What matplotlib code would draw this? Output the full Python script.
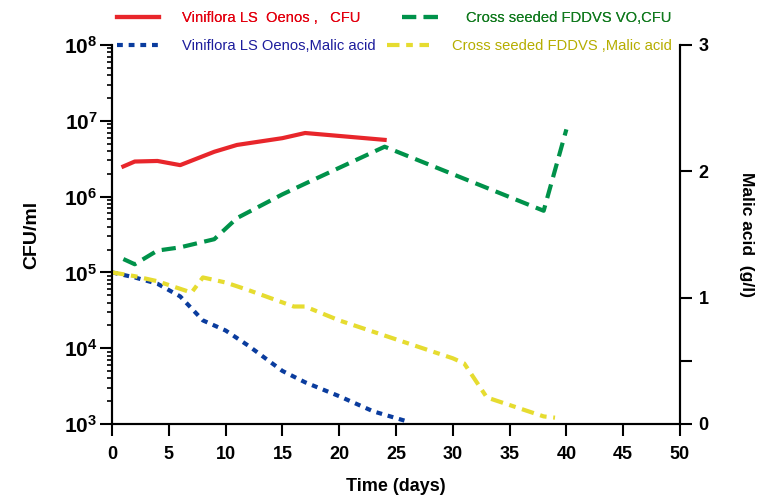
import matplotlib
matplotlib.use('Agg')
import matplotlib.pyplot as plt
from matplotlib.ticker import FixedLocator, LogLocator, NullFormatter

plt.rcParams['font.family'] = ['Liberation Sans', 'DejaVu Sans']
plt.rcParams['mathtext.fontset'] = 'custom'
plt.rcParams['mathtext.rm'] = 'Liberation Sans:bold'
plt.rcParams['mathtext.bf'] = 'Liberation Sans:bold'

# CFU counts (left axis, log)
red_days = [1, 2, 4, 6, 9, 11, 15, 17, 24]
red_cfu = [2.5e6, 2.9e6, 2.95e6, 2.6e6, 3.9e6, 4.8e6, 5.9e6, 6.9e6, 5.6e6]

green_days = [1, 2, 4, 6, 9, 11, 15, 17, 24, 38, 40]
green_cfu = [1.5e5, 1.28e5, 1.94e5, 2.14e5, 2.74e5, 5.2e5, 1.07e6, 1.48e6, 4.55e6, 6.5e5, 7.7e6]

# malic acid (right axis, g/l)
blue_days = [0, 2, 4, 6, 8, 10, 12, 15, 17, 20, 23, 26]
blue_malic = [1.2, 1.16, 1.11, 1.01, 0.82, 0.74, 0.62, 0.42, 0.33, 0.22, 0.10, 0.02]

yellow_days = [0, 2, 4, 6, 7, 8, 10, 12, 16, 17, 20, 25, 30, 31, 33, 35, 38, 39]
yellow_malic = [1.2, 1.17, 1.13, 1.07, 1.04, 1.16, 1.12, 1.06, 0.93, 0.93, 0.82, 0.67, 0.52, 0.48, 0.21, 0.15, 0.06, 0.05]

x_ticks = list(range(0, 51, 5))
log_exps = [3, 4, 5, 6, 7, 8]
malic_ticks = [0, 0.5, 1, 2, 3]
malic_labels = ['0', '', '1', '2', '3']

fig = plt.figure(figsize=(7.6, 4.97), dpi=100)
ax = fig.add_axes([0.1474, 0.1469, 0.7473, 0.7626])
ax2 = ax.twinx()

l_red, = ax.plot(red_days, red_cfu, color='#e8262b', lw=3)
l_green, = ax.plot(green_days, green_cfu, color='#00924a', lw=3, dashes=(3.4, 1.8))
l_blue, = ax2.plot(blue_days, blue_malic, color='#0a3c9e', lw=3, dashes=(1.4, 1.4))
l_yellow, = ax2.plot(yellow_days, yellow_malic, color='#e6dc30', lw=3, dashes=(3.0, 1.6, 1.6, 1.6))

ax.set_yscale('log')
ax.set_ylim(1e3, 1e8)
ax.set_xlim(0, 50)
ax2.set_ylim(0, 3)

ax.set_xticks(x_ticks)
ax.set_xticklabels([str(v) for v in x_ticks], fontsize=13, fontweight='bold')
ax.yaxis.set_major_locator(FixedLocator([10.0 ** e for e in log_exps]))
ax.set_yticklabels([r'$\mathbf{10^{%d}}$' % e for e in log_exps], fontsize=15)
ax.yaxis.set_minor_locator(LogLocator(base=10, subs=range(2, 10)))
ax.yaxis.set_minor_formatter(NullFormatter())

ax2.set_yticks(malic_ticks)
ax2.set_yticklabels(malic_labels, fontsize=13, fontweight='bold')

for a in (ax, ax2):
    a.spines['top'].set_visible(False)
    for s in a.spines.values():
        s.set_linewidth(1.5)
ax.tick_params(axis='x', which='major', length=8.5, width=1.5, pad=7)
ax.tick_params(axis='y', which='major', length=8.5, width=1.5, pad=2)
ax.tick_params(which='minor', length=3.6, width=1.2)
ax2.tick_params(which='major', length=8.5, width=1.5, pad=5)

ax.set_xlabel('Time (days)', fontsize=13, fontweight='bold')
ax.xaxis.set_label_coords(0.5, -0.142)
ax.set_ylabel('CFU/ml', fontsize=14, fontweight='bold', va='center', ha='center')
ax.yaxis.set_label_coords(-0.142, 0.5)
ax2.set_ylabel('Malic acid  (g/l)', fontsize=12.5, fontweight='bold', rotation=270,
               va='center', ha='center')
ax2.yaxis.set_label_coords(1.118, 0.5)

fs = 10.6
row1 = fig.legend([l_red, l_green], ['Viniflora LS  Oenos ,   CFU', 'Cross seeded FDDVS VO,CFU'],
                  ncol=2, frameon=False, loc='center left', bbox_to_anchor=(0.154, 0.964),
                  fontsize=fs, borderpad=0, borderaxespad=0, handlelength=2.85,
                  handletextpad=1.56, columnspacing=2.8)
for txt, c in zip(row1.get_texts(), ['#e3000f', '#127a1f']):
    txt.set_color(c)
row2 = fig.legend([l_blue, l_yellow], ['Viniflora LS Oenos,Malic acid', 'Cross seeded FDDVS ,Malic acid'],
                  ncol=2, frameon=False, loc='center left', bbox_to_anchor=(0.154, 0.907),
                  fontsize=fs, borderpad=0, borderaxespad=0, handlelength=2.85,
                  handletextpad=1.56, columnspacing=0.8)
for txt, c in zip(row2.get_texts(), ['#1c1c9c', '#b5ad00']):
    txt.set_color(c)
fig.add_artist(row1)

fig.savefig('out.png', dpi=100)
